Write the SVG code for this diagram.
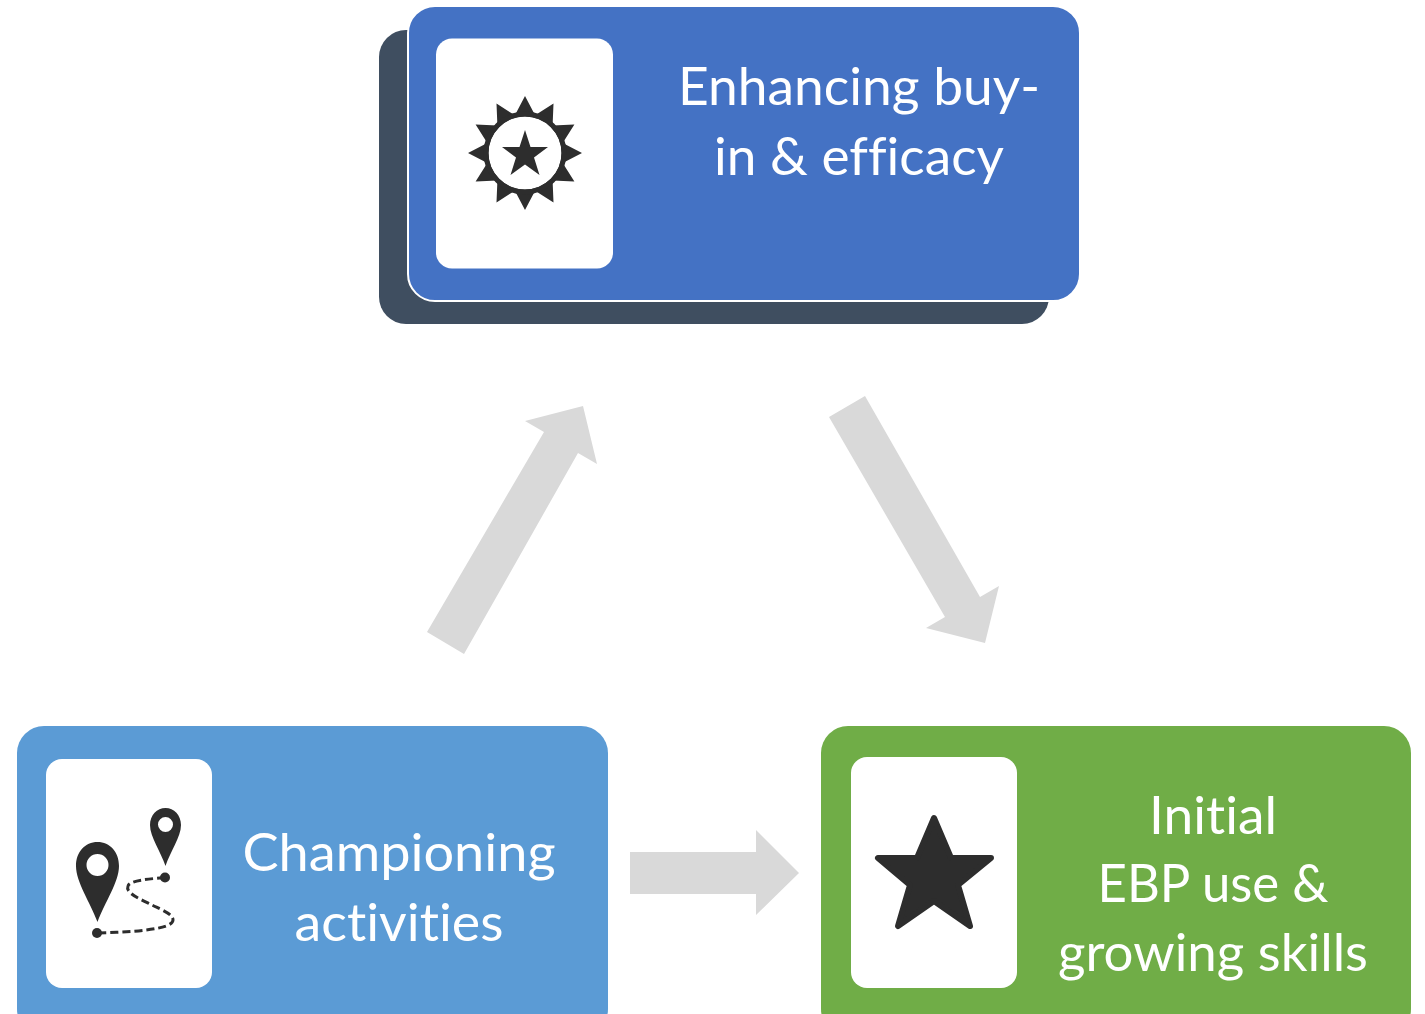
<svg xmlns="http://www.w3.org/2000/svg" width="1425" height="1014" viewBox="0 0 1425 1014">
<style>
.lbl{font-family:"Lato","Liberation Sans",sans-serif;font-size:52px;fill:#fff;text-anchor:middle;font-variant-ligatures:none}
.card{fill:#fff}
.ico{fill:#2d2d2d}
.arr{fill:#d9d9d9}
</style>
<rect width="1425" height="1014" fill="#fff"/>
<g id="connectors">
<polygon class="arr" points="427,632 464,654 578,453 597,464 583,406 525,421 544,432"/>
<polygon class="arr" points="829,417 865,396 980,597 999,586 985,643 926,628 945,617"/>
<polygon class="arr" points="630,852 756,852 756,830 799,873 756,915 756,894 630,894"/>
</g>
<g id="node-buyin">
<rect x="379" y="30" width="670" height="294" rx="27" fill="#3f4e60"/>
<rect x="408" y="6" width="672" height="295" rx="27" fill="#4472c4" stroke="#fff" stroke-width="2"/>
<rect class="card" x="436" y="38.500" width="177" height="230" rx="16"/>
<path class="ico" fill-rule="evenodd" d="M525 96L535.100 115.300L553.500 103.600L552.600 125.400L574.400 124.500L562.700 142.900L582 153L562.700 163.100L574.400 181.500L552.600 180.600L553.500 202.400L535.100 190.700L525 210L514.900 190.700L496.500 202.400L497.400 180.600L475.600 181.500L487.300 163.100L468 153L487.300 142.900L475.600 124.500L497.400 125.400L496.500 103.600L514.900 115.300ZM525 116.500A36.500 36.500 0 1 0 525 189.500A36.500 36.500 0 1 0 525 116.500Z"/>
<circle cx="525" cy="153" r="39" fill="none" stroke="#2d2d2d" stroke-width="5"/>
<polygon class="ico" points="525,130 530.500,147 548,147 534,157.500 539.500,175 525,164.500 510.500,175 516,157.500 502,147 519.500,147"/>
<text class="lbl" x="859" y="105" textLength="362" lengthAdjust="spacingAndGlyphs">Enhancing buy-</text>
<text class="lbl" x="859" y="175" textLength="290" lengthAdjust="spacingAndGlyphs">in &amp; efficacy</text>
</g>
<g id="node-championing">
<rect x="17" y="726" width="591" height="310" rx="27" fill="#5b9bd5"/>
<rect class="card" x="46" y="759" width="166" height="229" rx="16"/>
<path class="ico" fill-rule="evenodd" d="M97.500 842C85 842 76 852 76 866C76 882 90 902 97.500 922C105 902 119 882 119 866C119 852 110 842 97.500 842ZM97.500 854A11 11 0 1 1 97.500 876A11 11 0 1 1 97.500 854Z"/>
<path class="ico" fill-rule="evenodd" d="M165.500 808C157 808 150 815 150 825C150 837 161 852 165.500 866C170 852 181 837 181 825C181 815 174 808 165.500 808ZM165.500 817A7.500 7.500 0 1 1 165.500 832A7.500 7.500 0 1 1 165.500 817Z"/>
<circle class="ico" cx="97" cy="933" r="5"/>
<circle class="ico" cx="165" cy="877.500" r="5"/>
<path d="M165 877.500C150 879 130 880 128 886C125 893 140 899 152 905C162 910 173 914 173 920C173 930 130 932 97 933" fill="none" stroke="#2d2d2d" stroke-width="3" stroke-dasharray="8 4"/>
<text class="lbl" x="399" y="871" textLength="313" lengthAdjust="spacingAndGlyphs">Championing</text>
<text class="lbl" x="399" y="941" textLength="209" lengthAdjust="spacingAndGlyphs">activities</text>
</g>
<g id="node-initial">
<rect x="821" y="726" width="590" height="310" rx="27" fill="#70ad47"/>
<rect class="card" x="851" y="757" width="166" height="231" rx="16"/>
<polygon class="ico" stroke="#2d2d2d" stroke-width="6" stroke-linejoin="round" points="934,818 951,858 991,858 958,885 970,926 934,901 898,926 910,885 878,858 917,858"/>
<text class="lbl" x="1213" y="834" textLength="128" lengthAdjust="spacingAndGlyphs">Initial</text>
<text class="lbl" x="1213" y="902" textLength="231" lengthAdjust="spacingAndGlyphs">EBP use &amp;</text>
<text class="lbl" x="1213" y="971" textLength="310" lengthAdjust="spacingAndGlyphs">growing skills</text>
</g>
</svg>
